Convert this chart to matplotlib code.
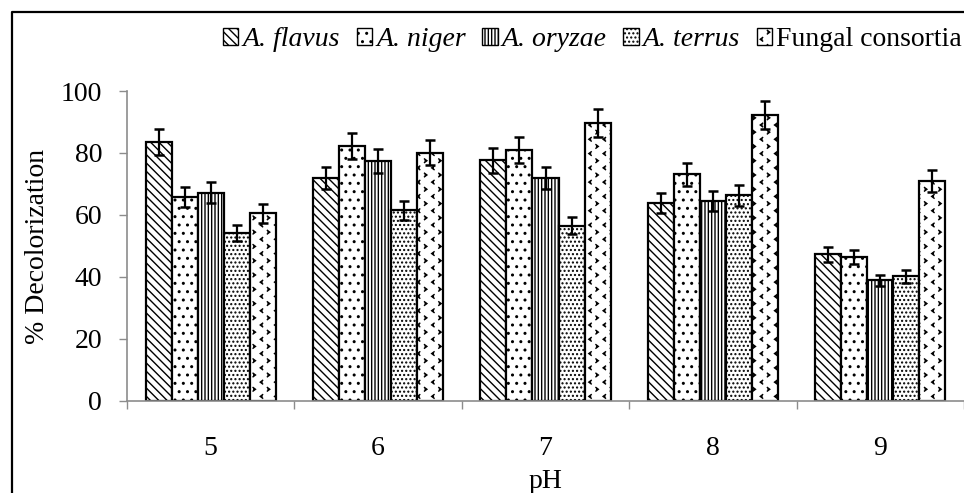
import numpy as np
import matplotlib
matplotlib.use("Agg")
import matplotlib.pyplot as plt
import matplotlib.hatch as mhatch
from matplotlib.path import Path
from matplotlib.patches import Patch
from matplotlib.lines import Line2D

# ---------------- data ----------------
ph_labels = ["5", "6", "7", "8", "9"]
series_names = ["A. flavus", "A. niger", "A. oryzae", "A. terrus", "Fungal consortia"]
flavus = [83.5, 72.0, 77.6, 63.9, 47.4]
niger = [65.8, 82.3, 81.0, 73.2, 46.5]
oryzae = [67.2, 77.3, 72.0, 64.4, 38.9]
terrus = [54.2, 61.5, 56.6, 66.3, 40.2]
consortia = [60.5, 80.1, 89.6, 92.2, 71.0]
flavus_err = [4.2, 3.6, 3.9, 3.2, 2.4]
niger_err = [3.3, 4.1, 4.1, 3.7, 2.3]
oryzae_err = [3.4, 3.9, 3.6, 3.2, 1.9]
terrus_err = [2.7, 3.1, 2.8, 3.3, 2.0]
consortia_err = [3.0, 4.0, 4.5, 4.6, 3.6]


# ---------------- custom chevron hatch (replaces '*') ----------------
class ChevronHatch(mhatch.HatchPatternBase):
    def __init__(self, hatch, density):
        self.num_rows = 7 if '*' in hatch else 0
        self.num_vertices = self.num_rows * self.num_rows * 6

    def set_vertices_and_codes(self, vertices, codes):
        n = self.num_rows
        step = 1.0 / n
        w = 0.012
        h = 0.018
        k = 0
        for i in range(n):
            for j in range(n):
                x0 = j * step
                y0 = i * step
                cx, cy = x0 + 0.3 * step, y0 + 0.25 * step
                pts1 = [(cx + w, cy + h), (cx - w, cy), (cx + w, cy - h)]
                cx, cy = x0 + 0.8 * step, y0 + 0.75 * step
                pts2 = [(cx - w, cy + h), (cx + w, cy), (cx - w, cy - h)]
                for pts in (pts1, pts2):
                    vertices[k:k + 3] = pts
                    codes[k] = Path.MOVETO
                    codes[k + 1:k + 3] = Path.LINETO
                    k += 3


mhatch._hatch_types = [t for t in mhatch._hatch_types if t is not mhatch.Stars] + [ChevronHatch]

plt.rcParams['font.family'] = ['Liberation Serif', 'DejaVu Serif']
plt.rcParams['hatch.linewidth'] = 1.0

FS = 20
values = [flavus, niger, oryzae, terrus, consortia]
errors = [flavus_err, niger_err, oryzae_err, terrus_err, consortia_err]
hatches = ['\\\\\\\\', '..', '|||||', '....', '*']
faces = ['white', 'white', 'white', 'white', 'white']

fig = plt.figure(figsize=(9.64, 4.93), dpi=100)
ax = fig.add_axes([127 / 964, 92 / 493, 837 / 964, 310 / 493])

x = np.arange(len(ph_labels))
bw = 0.1554
gray = '#8c8c8c'
for i, (vals, errs) in enumerate(zip(values, errors)):
    pos = x + (i - 2) * bw
    ax.bar(pos, vals, bw, facecolor=faces[i], edgecolor='black', linewidth=1.6,
           hatch=hatches[i], zorder=2)
    ax.errorbar(pos, vals, yerr=errs, fmt='none', ecolor='black', elinewidth=1.6,
                capsize=3.8, capthick=1.8, zorder=3)

ax.set_xlim(-0.5, 4.5)
ax.set_ylim(0, 100)
ax.set_yticks([0, 20, 40, 60, 80, 100])
ax.set_xticks(x)
ax.set_xticklabels(ph_labels)
ax.set_xticks(np.arange(-0.5, 5.0, 1.0), minor=True)
ax.tick_params(axis='x', which='major', length=0, pad=25, labelsize=FS)
ax.tick_params(axis='x', which='minor', length=6, width=1, color=gray, direction='out')
ax.tick_params(axis='y', length=6, width=1, color=gray, direction='out', pad=12, labelsize=FS)
for s in ['top', 'right']:
    ax.spines[s].set_visible(False)
for s in ['left', 'bottom']:
    ax.spines[s].set_color(gray)
    ax.spines[s].set_linewidth(1.2)

ax.set_xlabel('pH', fontsize=FS, labelpad=6)
ax.set_ylabel('% Decolorization', fontsize=FS, labelpad=8)

handles = [Patch(facecolor=faces[i], edgecolor='black', hatch=hatches[i], linewidth=1.0)
           for i in range(5)]
leg = fig.legend(handles, series_names, loc='center right', bbox_to_anchor=(962 / 964, 1 - 40 / 493),
                 ncol=5, frameon=False, fontsize=FS, handlelength=0.55, handleheight=0.55,
                 handletextpad=0.15, columnspacing=0.6, borderaxespad=0, borderpad=0)
for t in leg.get_texts()[:4]:
    t.set_fontstyle('italic')

# figure frame (left and top edges visible)
fx = 12 / 964
fy = 1 - 12 / 493
fig.add_artist(Line2D([fx, fx, 1.0], [0.0, fy, fy], transform=fig.transFigure,
                      color='black', linewidth=1.6))

fig.savefig('out.png', dpi=100)
